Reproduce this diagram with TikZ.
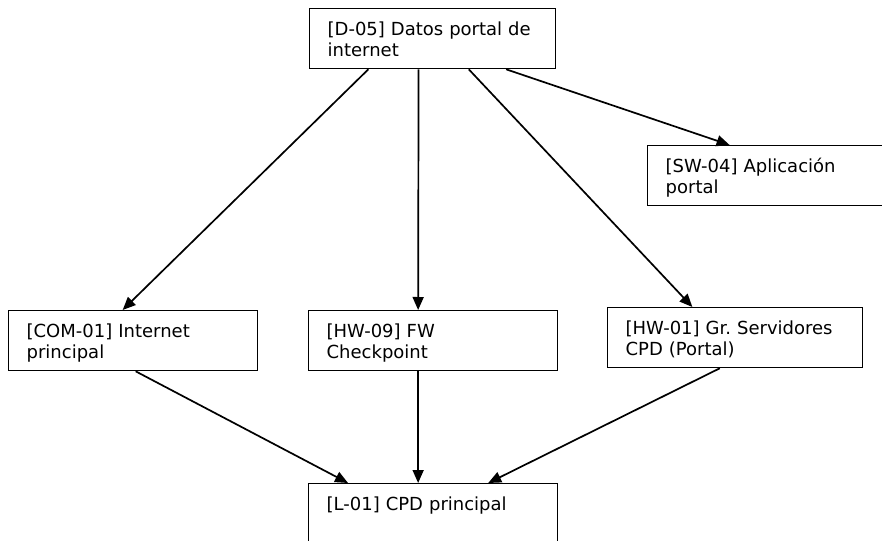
\documentclass[tikz,border=0pt]{standalone}
\usepackage{fontspec}
\setmainfont{DejaVu Sans}
\usetikzlibrary{arrows.meta,calc}
\frenchspacing

\begin{document}
\begin{tikzpicture}[x=1pt,y=-1pt,
  caja/.style={draw,line width=1.3pt,anchor=north west,align=left,
    inner xsep=18pt,inner ysep=4pt,text height=22.5pt,text depth=29.5pt,
    font=\fontsize{18}{21.5}\selectfont},
  flecha/.style={-{Triangle[length=13pt,width=11pt]},line width=1.7pt}]
\useasboundingbox (0,0) rectangle (882,540);
%% cajas
\node[caja,text width=210pt] (d05) at (309,8) {[D-05] Datos portal de\\internet};
\node[caja,text width=213pt] (sw04) at (647,145) {[SW-04] Aplicación\\portal};
\node[caja,text width=213pt] (com01) at (8,310) {[COM-01] Internet\\principal};
\node[caja,text width=213pt] (hw09) at (308,310) {[HW-09] FW\\Checkpoint};
\node[caja,text width=219pt] (hw01) at (607,307) {[HW-01] Gr. Servidores\\CPD (Portal)};
\node[caja,text width=213pt] (l01) at (308,483) {[L-01] CPD principal};
%% flechas de arriba
\draw[flecha] ($(d05.south west)!.24!(d05.south east)$) -- ($(com01.north west)!.458!(com01.north east)$);
\draw[flecha] ($(d05.south west)!.443!(d05.south east)$) -- ($(hw09.north west)!.44!(hw09.north east)$);
\draw[flecha] ($(d05.south west)!.646!(d05.south east)$) -- ($(hw01.north west)!.333!(hw01.north east)$);
\draw[flecha] ($(d05.south west)!.797!(d05.south east)$) -- ($(sw04.north west)!.33!(sw04.north east)$);
%% flechas de abajo
\draw[flecha] ($(com01.south west)!.51!(com01.south east)$) -- ($(l01.north west)!.16!(l01.north east)$);
\draw[flecha] ($(hw09.south west)!.44!(hw09.south east)$) -- ($(l01.north west)!.44!(l01.north east)$);
\draw[flecha] ($(hw01.south west)!.44!(hw01.south east)$) -- ($(l01.north west)!.72!(l01.north east)$);
\end{tikzpicture}
\end{document}
